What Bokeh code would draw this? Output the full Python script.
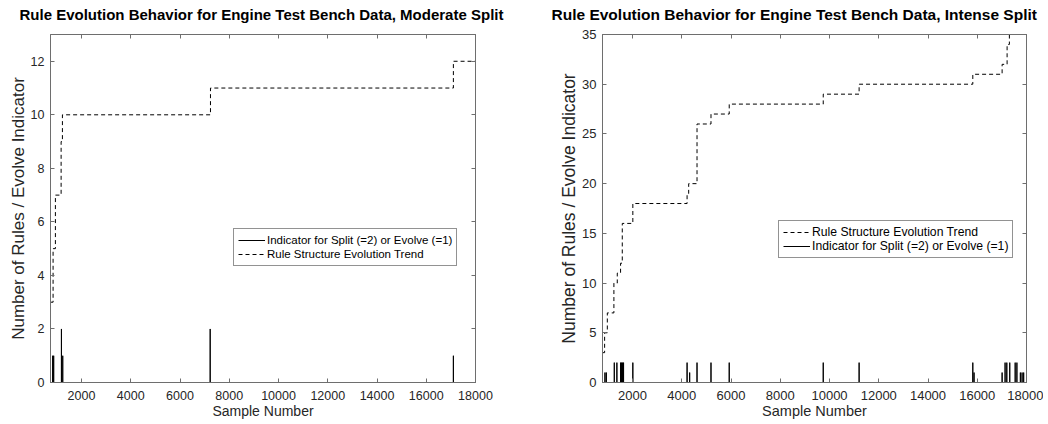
from bokeh.plotting import figure
from bokeh.models import LinearAxis, Range1d, FixedTicker, Legend, LegendItem, Title
from bokeh.layouts import row
from bokeh.embed import file_html
from bokeh.resources import INLINE

FONT = "Liberation Sans"

# ---------------- data ----------------
x_ticks = [2000, 4000, 6000, 8000, 10000, 12000, 14000, 16000, 18000]
x_end = 18000

# Moderate split
mod_x_start = 740
mod_rule_x = [740, 845, 939, 1171, 1224, 7237, 17102, 18000]
mod_rule_y = [3, 5, 7, 9, 10, 11, 12, 12]
mod_ind_x = [828, 869, 1184, 1237, 7225, 17102]
mod_ind_h = [1, 1, 2, 1, 2, 1]
mod_y_ticks = [0, 2, 4, 6, 8, 10, 12]
mod_y_max = 13

# Intense split
int_x_start = 780
int_rule_x = [780, 866, 976, 1243, 1380, 1514, 1583, 2012, 4215, 4280, 4619,
              5186, 5927, 9745, 11202, 15819, 17010, 17212, 17305, 18000]
int_rule_y = [3, 5, 7, 10, 11, 12, 16, 18, 19, 20, 26,
              27, 28, 29, 30, 31, 32, 34, 35, 35]
int_ind_x = [879, 936, 1259, 1364, 1514, 1554, 1595, 1635, 2012, 4215, 4320,
             4619, 5186, 5927, 9745, 11202, 15819, 15870, 17010, 17130, 17200,
             17320, 17540, 17610, 17751, 17820, 17885]
int_ind_h = [1, 1, 2, 2, 2, 2, 2, 2, 2, 2, 1,
             2, 2, 2, 2, 2, 2, 1, 1, 2, 2,
             2, 2, 2, 1, 1, 1]
int_y_ticks = [0, 5, 10, 15, 20, 25, 30, 35]
int_y_max = 35

IND_LABEL = "Indicator for Split (=2) or Evolve (=1)"
RULE_LABEL = "Rule Structure Evolution Trend"
X_LABEL = "Sample Number"
Y_LABEL = "Number of Rules / Evolve Indicator"

AX = "#6e6e6e"
TXT = "#262626"


def indicator_path(x0, xs, hs, x1):
    px, py = [x0], [0]
    for x, h in zip(xs, hs):
        px += [x, x, x]
        py += [0, h, 0]
    px.append(x1)
    py.append(0)
    return px, py


def style_axis(ax, fs, standoff):
    ax.major_tick_in = 4
    ax.major_tick_out = 0
    ax.minor_tick_line_color = None
    ax.axis_line_color = AX
    ax.major_tick_line_color = AX
    ax.major_label_text_font = FONT
    ax.major_label_text_font_size = fs
    ax.major_label_text_color = TXT
    ax.major_label_standoff = standoff
    ax.axis_label_text_font = FONT
    ax.axis_label_text_font_style = "normal"
    ax.axis_label_text_color = TXT
    ax.axis_label_standoff = 0


def make_fig(title, width, bl, br, bt, bb, x0, rx, ry, ix, ih, yticks, ymax,
             tick_fs, xlab_fs, ylab_fs, title_fs, title_off,
             leg_fs, leg_h, leg_pad, leg_loc, rule_first):
    p = figure(width=width, height=424, output_backend="svg",
               toolbar_location=None, title_location=None,
               x_range=Range1d(x0, x_end), y_range=Range1d(0, ymax),
               min_border_left=bl, min_border_right=br, min_border_top=bt,
               min_border_bottom=bb, background_fill_color="white",
               border_fill_color="white")
    p.grid.visible = False
    p.outline_line_color = AX
    p.outline_line_width = 1

    p.xaxis.ticker = FixedTicker(ticks=x_ticks)
    p.yaxis.ticker = FixedTicker(ticks=yticks)
    p.xaxis.axis_label = X_LABEL
    p.yaxis.axis_label = Y_LABEL
    style_axis(p.xaxis[0], tick_fs, 8)
    style_axis(p.yaxis[0], tick_fs, 6)
    p.xaxis.axis_label_text_font_size = xlab_fs
    p.yaxis.axis_label_text_font_size = ylab_fs

    # mirrored ticks on top and right (blank labels)
    top = LinearAxis(ticker=FixedTicker(ticks=x_ticks))
    right = LinearAxis(ticker=FixedTicker(ticks=yticks))
    for ax, ticks in ((top, x_ticks), (right, yticks)):
        style_axis(ax, "1px", 0)
        ax.major_label_overrides = {t: " " for t in ticks}
        ax.major_label_text_alpha = 0
    p.add_layout(top, "above")
    p.add_layout(right, "right")
    # blank spacer between the top ticks and the title
    p.add_layout(Title(text=" ", text_font_size="6px", standoff=0), "above")
    p.add_layout(Title(text=title, text_font=FONT, text_font_size=title_fs,
                       text_font_style="bold", text_color="black",
                       align="left", offset=title_off, vertical_align="top",
                       standoff=3), "above")

    px, py = indicator_path(x0, ix, ih, x_end)
    r_ind = p.line(px, py, line_color="black", line_width=1)
    r_rule = p.step(rx, ry, mode="after", line_color="black", line_width=1,
                    line_dash="4 3")

    items = [LegendItem(label=IND_LABEL, renderers=[r_ind]),
             LegendItem(label=RULE_LABEL, renderers=[r_rule])]
    if rule_first:
        items = items[::-1]
    leg = Legend(items=items, location=leg_loc, label_text_font=FONT,
                 label_text_font_size=leg_fs, label_text_color="black",
                 border_line_color="#262626", border_line_width=1,
                 background_fill_color="white", background_fill_alpha=1,
                 glyph_width=27, glyph_height=leg_h, label_height=leg_h,
                 label_standoff=2, padding=leg_pad, spacing=0, margin=0)
    p.add_layout(leg, "center")
    return p


p1 = make_fig("Rule Evolution Behavior for Engine Test Bench Data, Moderate Split",
              535, 50, 60, 34, 42, mod_x_start, mod_rule_x, mod_rule_y,
              mod_ind_x, mod_ind_h, mod_y_ticks, mod_y_max,
              "12.5px", "14px", "17px", "15px", -31,
              "11.5px", 14, 4, (183, 116), False)
p2 = make_fig("Rule Evolution Behavior for Engine Test Bench Data, Intense Split",
              508, 67, 17, 34, 42, int_x_start, int_rule_x, int_rule_y,
              int_ind_x, int_ind_h, int_y_ticks, int_y_max,
              "13px", "14.5px", "17.5px", "15.5px", -51,
              "12.2px", 12, 4, (176, 124), True)

layout = row(p1, p2)
open("out.html", "w").write(file_html(layout, INLINE))
